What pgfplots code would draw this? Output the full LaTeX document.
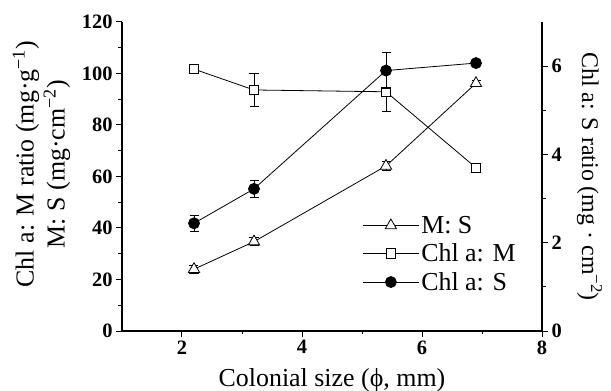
\documentclass[border=0pt]{standalone}
\usepackage{pgfplots}
\pgfplotsset{compat=1.18}
\usepackage{fontspec}
\setmainfont{Liberation Serif}
\begin{document}
\begin{tikzpicture}
\useasboundingbox (-122bp,-60bp) rectangle (489bp,331bp);
\pgfplotsset{
  every axis/.append style={
    scale only axis, width=420bp, height=309bp,
    xmin=1, xmax=8,
    axis line style={line width=1.3bp},
    tick style={line width=1bp, black},
    major tick length=6bp, minor tick length=3.5bp,
    tick align=outside,
    /pgf/number format/assume math mode=true,
    tick label style={font=\fontsize{20.5}{20.5}\selectfont\bfseries},
    label style={font=\fontsize{26}{31}\selectfont},
    legend image code/.code={\draw[mark repeat=2,mark phase=2,#1] plot coordinates {(0bp,0bp)(28bp,0bp)(56bp,0bp)};},
  },
  ser/.style={black, line width=0.8bp, mark options={solid, line width=0.8bp},
    error bars/y dir=both, error bars/y explicit,
    error bars/error bar style={line width=0.8bp},
    error bars/error mark options={rotate=90, mark size=4.5bp, line width=0.8bp}},
}
\begin{axis}[
  axis x line*=bottom, axis y line*=left,
  ymin=0, ymax=120, ytick={0,20,...,120}, minor y tick num=1,
  xtick={2,4,6,8}, minor x tick num=1,
  xlabel={Colonial size (ϕ, mm)},
  xlabel style={at={(axis description cs:0.5,-0.11)}, anchor=north},
  ylabel={Chl a: M ratio (mg·g\textsuperscript{−1})\\M: S (mg·cm\textsuperscript{−2})},
  ylabel style={align=center, at={(axis description cs:-0.115,0.54)}, anchor=south},
  legend style={at={(0.565,0.385)}, anchor=north west, draw=none, fill=none,
    font=\fontsize{26}{30}\selectfont, row sep=5bp},
  legend cell align=left,
]
\addplot[ser, mark=triangle*, mark size=6.5bp, mark options={fill=white}] table[x=x,y=y,y error=e] {
x y e
2.2 24.0 1.5
3.2 34.7 1.5
5.4 64.1 1.8
6.9 96.2 1.0
};
\addlegendentry{M: S}
\addplot[ser, mark=square*, mark size=4.7bp, mark options={fill=white}] table[x=x,y=y,y error=e] {
x y e
2.2 101.7 0.8
3.2 93.6 6.5
5.4 92.9 7.7
6.9 63.4 1.0
};
\addlegendentry{Chl a: M}
\addlegendimage{ser, mark=*, mark size=5.5bp, mark options={fill=black}}
\addlegendentry{Chl a: S}
\end{axis}
\begin{axis}[
  axis x line=none, axis y line*=right,
  ymin=0, ymax=7, ytick={0,2,4,6}, minor y tick num=1,
  ylabel={Chl a: S ratio (mg · cm\textsuperscript{−2})},
  ylabel style={rotate=180, at={(axis description cs:1.075,0.5)}, anchor=south, font=\fontsize{24}{29}\selectfont},
]
\addplot[ser, mark=*, mark size=5.5bp, mark options={fill=black}] table[x=x,y=y,y error=e] {
x y e
2.2 2.44 0.18
3.2 3.22 0.19
5.4 5.90 0.41
6.9 6.07 0.05
};
\end{axis}
\end{tikzpicture}
\end{document}
